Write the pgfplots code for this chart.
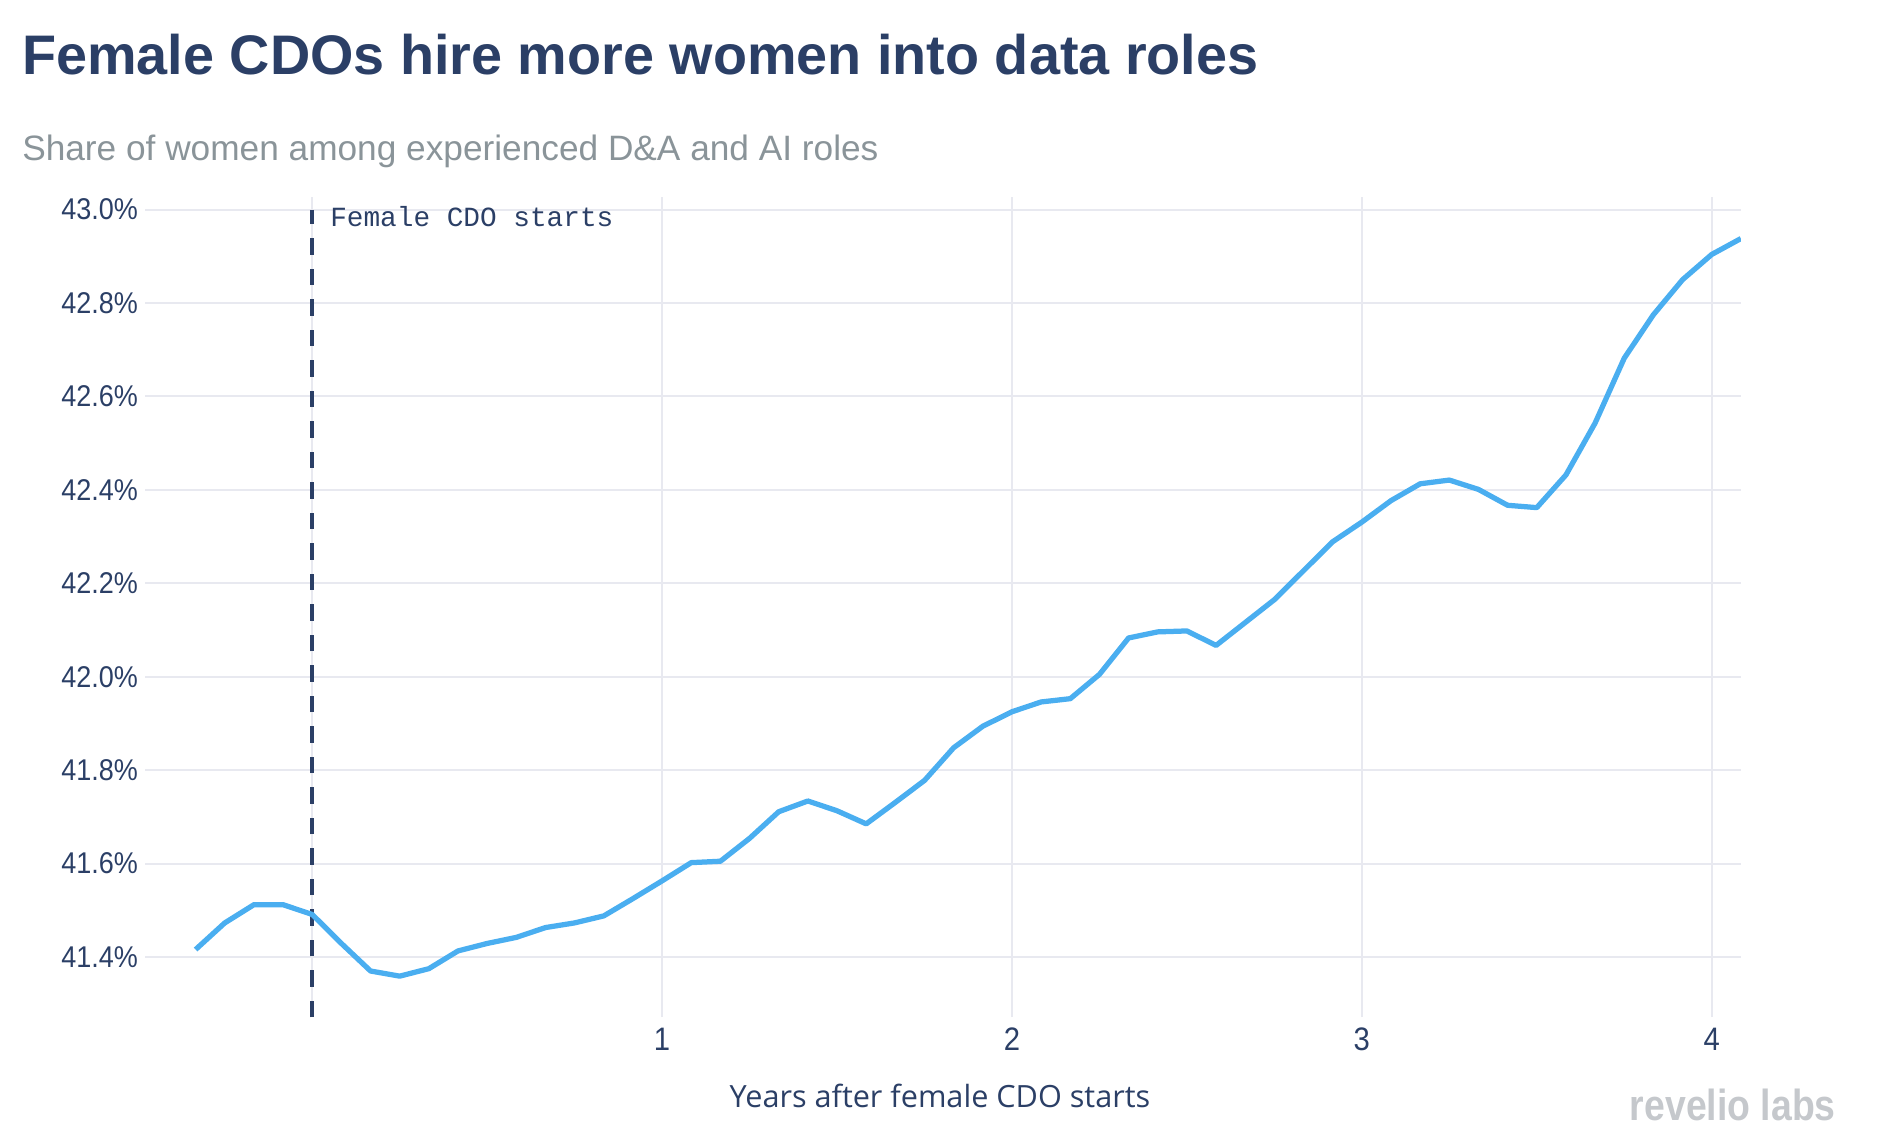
\documentclass[border=0pt]{standalone}
\usepackage{fontspec}
\usepackage{pgfplots}
\usepackage{pgfplotstable}
\pgfplotsset{compat=1.18}
\setmainfont{Liberation Sans}
\newfontfamily\tickfont{Liberation Sans}[FakeStretch=0.9]
\newfontfamily\logofont{Liberation Sans}[FakeStretch=0.86]
\newfontfamily\labelfont{Open Sans}
\newfontfamily\annfont{Liberation Mono}
\definecolor{navy}{RGB}{43,63,102}
\definecolor{lineblue}{RGB}{74,174,240}
\definecolor{gridc}{RGB}{232,233,240}
\definecolor{subgray}{RGB}{138,148,153}
\definecolor{logogray}{RGB}{197,200,204}
\pgfplotstableread{
m y
-4 41.416
-3 41.473
-2 41.512
-1 41.512
0 41.491
1 41.429
2 41.370
3 41.359
4 41.375
5 41.413
6 41.429
7 41.442
8 41.463
9 41.473
10 41.488
11 41.525
12 41.563
13 41.602
14 41.605
15 41.654
16 41.711
17 41.734
18 41.713
19 41.685
20 41.731
21 41.778
22 41.848
23 41.894
24 41.925
25 41.946
26 41.953
27 42.005
28 42.083
29 42.096
30 42.098
31 42.067
32 42.116
33 42.165
34 42.227
35 42.289
36 42.331
37 42.377
38 42.413
39 42.421
40 42.401
41 42.367
42 42.362
43 42.432
44 42.543
45 42.682
46 42.775
47 42.850
48 42.904
49 42.938
}\datatable
\begin{document}
\begin{tikzpicture}
\path (0,0) rectangle (757.6pt,458.4pt);
\begin{axis}[
  at={(58pt,51.5pt)}, anchor=south west,
  scale only axis, width=638.3pt, height=328.1pt,
  xmin=-0.478, xmax=4.083, ymin=41.271, ymax=43.027,
  axis line style={draw=none},
  major tick length=0pt,
  xtick={0,1,2,3,4}, xticklabels={,1,2,3,4},
  ytick={41.4,41.6,41.8,42.0,42.2,42.4,42.6,42.8,43.0},
  yticklabels={41.4\%,41.6\%,41.8\%,42.0\%,42.2\%,42.4\%,42.6\%,42.8\%,43.0\%},
  xmajorgrids, ymajorgrids,
  grid style={gridc, line width=0.8pt},
  yticklabel style={font=\tickfont\fontsize{12}{14}\selectfont, text=navy, anchor=east, inner sep=0pt, xshift=-2.6pt},
  xticklabel style={font=\tickfont\fontsize{13}{15}\selectfont, text=navy, anchor=north, inner sep=0pt, yshift=-4.0pt},
]
\addplot[navy, line width=1.5pt, dash pattern=on 6.6pt off 5.6pt] coordinates {(0,41.271) (0,43.0)};
\addplot[lineblue, line width=2.1pt, line join=round] table[x expr=\thisrow{m}/12, y=y] {\datatable};
\end{axis}
\node[anchor=base west, inner sep=0pt, text=navy, font=\fontsize{22.3}{26}\selectfont\bfseries] at (8.7pt,428.4pt) {Female CDOs hire more women into data roles};
\node[anchor=base west, inner sep=0pt, text=subgray, font=\fontsize{14.1}{17}\selectfont] at (8.7pt,394.2pt) {Share of women among experienced D\&A and AI roles};
\node[anchor=base west, inner sep=0pt, text=navy, font=\annfont\fontsize{11.1}{13}\selectfont] at (131.9pt,367.6pt) {Female CDO starts};
\node[anchor=base, inner sep=0pt, text=navy, font=\labelfont\fontsize{12.25}{14}\selectfont] at (376pt,15.3pt) {Years after female CDO starts};
\node[anchor=base east, inner sep=0pt, text=logogray, font=\logofont\fontsize{17.4}{19}\selectfont\bfseries] at (734.5pt,10.4pt) {revelio labs};
\end{tikzpicture}
\end{document}
